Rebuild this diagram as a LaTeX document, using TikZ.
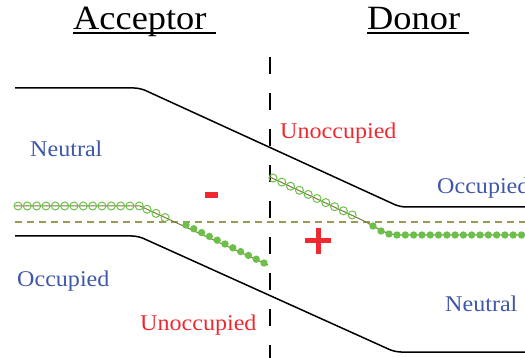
\documentclass[tikz,border=0pt]{standalone}
\usepackage{fontspec}
\setmainfont{Liberation Serif}[FakeStretch=1.07]
\definecolor{lblblue}{HTML}{3F57A8}
\definecolor{lblred}{HTML}{EE2A30}
\definecolor{dotgreen}{HTML}{6CC04A}
\definecolor{fermi}{HTML}{9A9A55}
\definecolor{trace}{HTML}{7D7A3A}

\begin{document}
\begin{tikzpicture}[
        x=1pt, y=-1pt,
        title/.style={
            anchor=base west,
            inner sep=0pt,
            font=\fontsize{34}{38}\selectfont
        },
        state/.style={
            anchor=base west,
            inner sep=0pt,
            font=\fontsize{22.5}{25}\selectfont
        },
        band/.style={
            line width=1.5pt,
            draw=black,
            rounded corners=6pt
        },
        opendot/.style={
            draw=dotgreen,
            line width=1pt
        },
        fulldot/.style={
            fill=dotgreen
        }
    ]

    \useasboundingbox (0,0) rectangle (525,358);

    % headings
    \node[title] (acc) at (73,29.5) {Acceptor};
    \node[title] (don) at (367,29.5) {Donor};
    \draw[line width=1.3pt] ([yshift=-3.5pt]acc.base west) -- ([xshift=9pt,yshift=-3.5pt]acc.base east);
    \draw[line width=1.3pt] ([yshift=-3.5pt]don.base west) -- ([xshift=9pt,yshift=-3.5pt]don.base east);

    % interface
    \draw[line width=1.6pt, dash pattern=on 17pt off 19pt] (270,57) -- (270,358);

    % band edges
    \draw[band] (15,88) -- (140,88) -- (400,207) -- (525,207);
    \draw[band] (15,236) -- (138,236) -- (395,352) -- (525,352);

    % Fermi level
    \draw[fermi, line width=1.4pt, dash pattern=on 7pt off 5pt] (15,222) -- (525,222);

    % trap levels
    \draw[trace, line width=1pt] (15,206) -- (140,206) -- (268,265);
    \draw[trace, line width=1pt] (270,177) -- (362,220) .. controls (378,228) and (385,235) .. (400,235) -- (525,235);

    \foreach \i in {0,...,13} {
        \draw[opendot] (18+9.33*\i, 206) circle (4pt);
    }
    \foreach \x in {147,156,165} {
        \draw[opendot] (\x, 206+0.461*\x-0.461*140) circle (4pt);
    }
    \foreach \i in {0,...,10} {
        \fill[fulldot] (186+7.8*\i, 225+3.8*\i) circle (3.7pt);
    }

    \foreach \i in {0,...,9} {
        \draw[opendot] (273+8.8*\i, 178+4.1*\i) circle (4pt);
    }
    \fill[fulldot] (373,226) circle (3.7pt);
    \fill[fulldot] (381,231) circle (3.7pt);
    \fill[fulldot] (389,234) circle (3.7pt);
    \foreach \i in {0,...,15} {
        \fill[fulldot] (397+8.3*\i, 235) circle (3.7pt);
    }

    % charges
    \fill[lblred] (205,192) rectangle (218,198);
    \fill[lblred] (305,238.5) rectangle (331,243.5);
    \fill[lblred] (315.5,228) rectangle (320.5,254);

    % labels
    \node[state, text=lblblue] (neuA) at (30,157) {Neutral};
    \node[state, text=lblblue] (occA) at (17,287) {Occupied};
    \node[state, text=lblred] (unoA) at (140,330) {Unoccupied};
    \node[state, text=lblred] (unoD) at (280,139) {Unoccupied};
    \node[state, text=lblblue] (occD) at (437,194) {Occupied};
    \node[state, text=lblblue] (neuD) at (445,312) {Neutral};

\end{tikzpicture}
\end{document}
